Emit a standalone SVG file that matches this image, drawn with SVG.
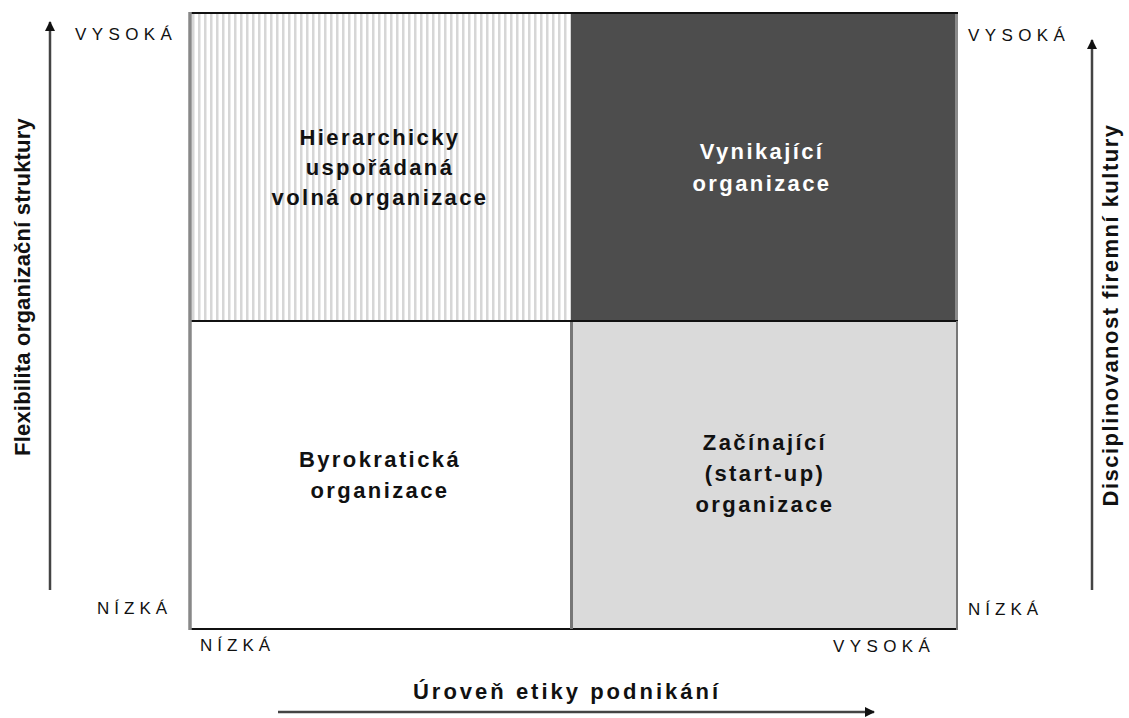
<svg xmlns="http://www.w3.org/2000/svg" width="1129" height="718" viewBox="0 0 1129 718">
<defs>
<pattern id="stripes" patternUnits="userSpaceOnUse" x="192" y="0" width="6" height="10">
<rect x="0" y="0" width="6" height="10" fill="#ffffff"/>
<rect x="0" y="0" width="2.5" height="10" fill="#d6d6d6"/>
</pattern>
<marker id="ah" markerWidth="10" markerHeight="10" refX="9" refY="5" orient="auto" markerUnits="userSpaceOnUse">
<path d="M0,0 L10,5 L0,10 Z" fill="#111"/>
</marker>
<style>
.lbl{font-family:"Liberation Sans",Arial,sans-serif;font-size:17px;letter-spacing:5.4px;fill:#111}
.q{font-family:"Liberation Sans",Arial,sans-serif;font-size:22px;font-weight:bold;letter-spacing:2.4px;text-anchor:middle;fill:#111}
.ax{font-family:"Liberation Sans",Arial,sans-serif;font-size:22px;font-weight:bold;text-anchor:middle;fill:#111}
.arr{stroke:#444;stroke-width:2.5;fill:none;marker-end:url(#ah)}
</style>
</defs>
<rect width="1129" height="718" fill="#ffffff"/>

<g id="q-top-left">
<rect x="190" y="13" width="381" height="308" fill="url(#stripes)"/>
<text class="q" x="380" y="145">Hierarchicky</text>
<text class="q" x="380" y="175">uspořádaná</text>
<text class="q" x="380" y="205">volná organizace</text>
</g>
<g id="q-top-right">
<rect x="571" y="13" width="387" height="308" fill="#4d4d4d"/>
<rect x="955" y="13" width="3" height="308" fill="#8a8a8a"/>
<text class="q" x="762" y="159" style="fill:#ffffff">Vynikající</text>
<text class="q" x="762" y="191" style="fill:#ffffff">organizace</text>
</g>
<g id="q-bottom-left">
<rect x="190" y="321" width="381" height="308" fill="#ffffff"/>
<text class="q" x="380" y="467">Byrokratická</text>
<text class="q" x="380" y="498">organizace</text>
</g>
<g id="q-bottom-right">
<rect x="571" y="321" width="387" height="308" fill="#dadada"/>
<text class="q" x="765" y="450">Začínající</text>
<text class="q" x="765" y="481">(start-up)</text>
<text class="q" x="765" y="512">organizace</text>
</g>

<g id="grid-lines">
<line x1="189" y1="13" x2="958" y2="13" stroke="#111" stroke-width="2"/>
<line x1="189" y1="629" x2="958" y2="629" stroke="#111" stroke-width="2"/>
<line x1="189" y1="321" x2="958" y2="321" stroke="#111" stroke-width="2"/>
<line x1="190" y1="12" x2="190" y2="630" stroke="#888" stroke-width="3.5"/>
<line x1="571.5" y1="322" x2="571.5" y2="629" stroke="#777" stroke-width="3"/>
<line x1="957" y1="321" x2="957" y2="630" stroke="#777" stroke-width="2"/>
</g>

<g id="connectors">
<line class="arr" x1="50" y1="590" x2="50" y2="22"/>
<line class="arr" x1="1092" y1="590" x2="1092" y2="40"/>
<line class="arr" x1="278" y1="712" x2="874" y2="712"/>
</g>

<g id="labels">
<text class="lbl" x="75" y="40">VYSOKÁ</text>
<text class="lbl" x="968" y="41">VYSOKÁ</text>
<text class="lbl" x="97" y="614" style="letter-spacing:5px">NÍZKÁ</text>
<text class="lbl" x="968" y="615" style="letter-spacing:5px">NÍZKÁ</text>
<text class="lbl" x="200" y="651" style="letter-spacing:5px">NÍZKÁ</text>
<text class="lbl" x="833" y="652">VYSOKÁ</text>
</g>

<g id="axis-titles">
<text class="ax" x="567" y="699" style="letter-spacing:3px">Úroveň etiky podnikání</text>
<text class="ax" transform="translate(30,287) rotate(-90)" style="letter-spacing:0.2px">Flexibilita organizační  struktury</text>
<text class="ax" transform="translate(1118,315) rotate(-90)" style="letter-spacing:1.5px">Disciplinovanost  firemní kultury</text>
</g>
</svg>
